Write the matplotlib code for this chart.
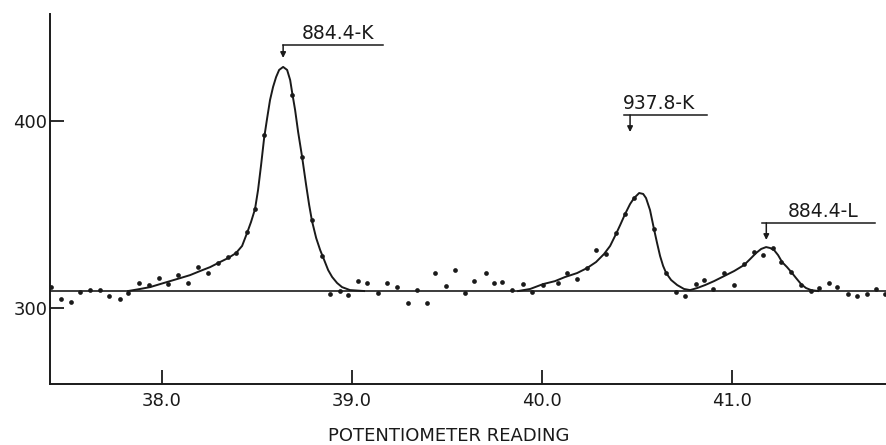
import matplotlib
matplotlib.use("Agg")
import matplotlib.pyplot as plt

# measured counts (dots)
pts_x = [37.416, 37.468, 37.521, 37.568, 37.621, 37.674, 37.721, 37.779, 37.821, 37.879,
         37.932, 37.984, 38.032, 38.084, 38.137, 38.189, 38.242, 38.295, 38.347, 38.389,
         38.447, 38.489, 38.537, 38.684, 38.737, 38.789, 38.842, 38.884, 38.937, 38.979,
         39.032, 39.079, 39.137, 39.184, 39.237, 39.295, 39.342, 39.395, 39.437, 39.495,
         39.542, 39.595, 39.642, 39.705, 39.747, 39.789, 39.842, 39.900, 39.947, 40.005,
         40.084, 40.132, 40.184, 40.237, 40.284, 40.337, 40.389, 40.437, 40.484, 40.589,
         40.653, 40.705, 40.753, 40.811, 40.853, 40.900, 40.958, 41.011, 41.063, 41.116,
         41.163, 41.216, 41.258, 41.311, 41.363, 41.416, 41.458, 41.511, 41.553, 41.611,
         41.658, 41.711, 41.758, 41.805]
pts_y = [311.2, 304.8, 303.2, 308.6, 309.6, 309.6, 306.4, 304.8, 308.0, 313.4,
         312.3, 316.0, 312.8, 317.6, 313.4, 321.9, 318.7, 324.1, 327.3, 329.4,
         340.6, 352.9, 392.5, 413.9, 380.7, 347.1, 327.8, 307.5, 309.1, 307.0,
         314.4, 313.4, 308.0, 313.4, 311.2, 302.7, 309.6, 302.7, 318.7, 311.8,
         320.3, 308.0, 314.4, 318.7, 313.4, 313.9, 309.6, 312.8, 308.6, 312.3,
         313.4, 318.7, 315.5, 321.4, 331.0, 328.9, 340.1, 350.3, 358.8, 342.2,
         318.7, 308.6, 306.4, 312.8, 315.0, 310.2, 318.7, 312.3, 323.5, 329.9,
         328.3, 332.1, 324.6, 319.3, 312.3, 309.1, 310.7, 313.4, 311.2, 307.5,
         306.4, 307.5, 310.2, 307.5]

# hand-drawn curve through the first peak
curve1_x = [37.821, 37.884, 37.937, 37.989, 38.042, 38.095, 38.147, 38.200, 38.253, 38.305,
            38.347, 38.389, 38.421, 38.447, 38.468, 38.489, 38.505, 38.521, 38.537, 38.553,
            38.568, 38.584, 38.600, 38.616, 38.637, 38.658, 38.674, 38.684, 38.700, 38.716,
            38.737, 38.758, 38.774, 38.789, 38.811, 38.832, 38.853, 38.874, 38.895, 38.921,
            38.947, 38.989, 39.063]
curve1_y = [309.1, 310.2, 311.2, 312.8, 314.4, 316.0, 317.6, 319.8, 321.9, 324.6,
            326.7, 329.4, 333.2, 340.1, 346.0, 352.9, 363.1, 376.5, 390.9, 401.6,
            411.2, 418.2, 423.5, 427.3, 428.9, 427.3, 421.9, 415.5, 405.9, 394.1,
            380.7, 365.8, 355.1, 346.5, 337.4, 331.0, 325.7, 320.3, 316.6, 313.4,
            311.2, 309.6, 309.1]

# hand-drawn curve through the second and third peaks
curve2_x = [39.874, 39.937, 40.005, 40.068, 40.121, 40.184, 40.237, 40.284, 40.326, 40.358,
            40.389, 40.411, 40.437, 40.463, 40.484, 40.511, 40.532, 40.547, 40.568, 40.589,
            40.605, 40.621, 40.637, 40.653, 40.679, 40.711, 40.747, 40.779, 40.816, 40.858,
            40.905, 40.958, 41.011, 41.063, 41.095, 41.126, 41.153, 41.179, 41.200, 41.221,
            41.242, 41.263, 41.289, 41.311, 41.337, 41.363, 41.389, 41.416, 41.453]
curve2_y = [309.1, 310.2, 312.8, 314.4, 316.6, 318.7, 321.4, 324.6, 328.9, 333.2,
            339.6, 344.4, 350.3, 355.6, 358.8, 361.5, 361.0, 358.8, 352.4, 342.2,
            334.8, 327.8, 322.5, 318.7, 315.0, 312.3, 310.2, 309.6, 310.7, 312.3,
            314.4, 317.1, 319.8, 323.0, 326.2, 329.4, 331.6, 332.6, 332.1, 331.0,
            328.3, 324.6, 321.9, 319.3, 316.0, 312.8, 310.7, 309.6, 309.1]

background = 309

# line labels: text, arrow x, arrow tip y, bar y, bar x-start, bar x-end, text x
labels = ["884.4-K", "937.8-K", "884.4-L"]
arrow_x = [38.637, 40.463, 41.180]
arrow_tip = [433.7, 394.1, 336.4]
bar_y = [440.6, 403.2, 345.5]
bar_x0 = [38.637, 40.430, 41.160]
bar_x1 = [39.160, 40.870, 41.750]
text_x = [38.737, 40.426, 41.295]

xticks = [38.0, 39.0, 40.0, 41.0]
yticks = [300, 400]

ink = "#1a1a1a"

fig = plt.figure(figsize=(8.86, 4.45), dpi=100)
ax = fig.add_axes([50 / 886, 61 / 445, 836 / 886, 370 / 445])

ax.axhline(background, color=ink, lw=1.2)
ax.plot(curve1_x, curve1_y, color=ink, lw=1.4)
ax.plot(curve2_x, curve2_y, color=ink, lw=1.4)
ax.plot(pts_x, pts_y, "o", color=ink, ms=3.4, mew=0)

for i in range(len(labels)):
    ax.plot([bar_x0[i], bar_x1[i]], [bar_y[i], bar_y[i]], color=ink, lw=1.1)
    ax.annotate("", xy=(arrow_x[i], arrow_tip[i]), xytext=(arrow_x[i], bar_y[i]),
                arrowprops=dict(arrowstyle="-|>", color=ink, lw=1.1,
                                mutation_scale=8, shrinkA=0, shrinkB=0))
    ax.text(text_x[i], bar_y[i] + 1.0, labels[i], fontsize=13.5, color=ink,
            ha="left", va="bottom")

ax.set_xlim(37.41, 41.81)
ax.set_ylim(259.4, 457.2)
ax.set_xticks(xticks)
ax.set_xticklabels([f"{t:.1f}" for t in xticks])
ax.set_yticks(yticks)
ax.set_yticklabels([str(t) for t in yticks])
ax.tick_params(direction="in", length=10, width=1.3, colors=ink, labelsize=13)
ax.tick_params(axis="x", pad=6)
ax.tick_params(axis="y", pad=2)

for s in ["top", "right"]:
    ax.spines[s].set_visible(False)
for s in ["left", "bottom"]:
    ax.spines[s].set_linewidth(1.4)
    ax.spines[s].set_color(ink)

ax.set_xlabel("POTENTIOMETER READING", fontsize=13, color=ink)
ax.xaxis.set_label_coords(0.477, -0.117)

fig.savefig("out.png", dpi=100)
